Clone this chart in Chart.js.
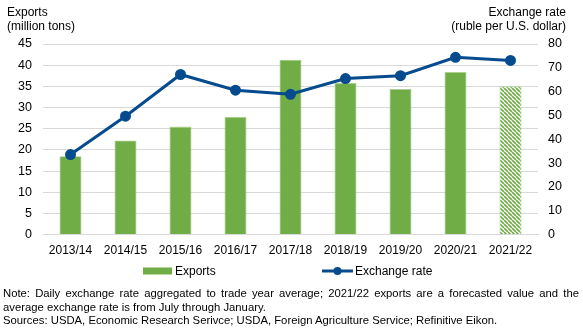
<!DOCTYPE html>
<html>
<head>
<meta charset="utf-8">
<script src="https://cdn.jsdelivr.net/npm/chart.js@4/dist/chart.umd.min.js"></script>
<style>
  body { margin: 0; background: #fff; font-family: "Liberation Sans", Arial, sans-serif; color: #000; }
  #wrap { position: relative; width: 583px; height: 332px; }
  #chart { position: absolute; left: 0; top: 0; }
  .ttl { position: absolute; font-size: 12px; line-height: 14px; }
  .leg { position: absolute; top: 263px; font-size: 12px; line-height: 16px; white-space: nowrap; }
  .leg canvas { position: absolute; left: 0; top: 3px; }
  #notes { position: absolute; left: 3px; top: 287px; font-size: 11.3px; line-height: 13.5px; width: 576px; text-align: justify; }
</style>
</head>
<body>
<div id="wrap">
  <canvas id="chart" width="583" height="271"></canvas>
  <div class="ttl" style="left:7px; top:5px;">Exports<br>(million tons)</div>
  <div class="ttl" style="right:17px; top:5px; text-align:right;">Exchange rate<br>(ruble per U.S. dollar)</div>
  <div class="leg" id="legBar" style="left:142px; padding-left:33px;">Exports</div>
  <div class="leg" id="legLine" style="left:322px; padding-left:33px;">Exchange rate</div>
  <div id="notes">Note: Daily exchange rate aggregated to trade year average; 2021/22 exports are a forecasted value and the average exchange rate is from July through January.<br>Sources: USDA, Economic Research Serivce; USDA, Foreign Agriculture Service; Refinitive Eikon.</div>
</div>
<script>
const years = ['2013/14', '2014/15', '2015/16', '2016/17', '2017/18', '2018/19', '2019/20', '2020/21', '2021/22'];
const exportsMt = [18.5, 22.2, 25.5, 27.8, 41.3, 35.8, 34.4, 38.4, 35.0];
const rubPerUsd = [33.6, 49.7, 67.2, 60.6, 58.9, 65.5, 66.7, 74.4, 73.1];
const leftTicks = [0, 5, 10, 15, 20, 25, 30, 35, 40, 45];
const rightTicks = [0, 10, 20, 30, 40, 50, 60, 70, 80];

const green = '#70ad47';
const blue = '#054b8e';
const font = { family: '"Liberation Sans", Arial, sans-serif', size: 12.5 };

// hatched fill for the forecast year
function makeHatch() {
  const c = document.createElement('canvas');
  c.width = 4; c.height = 4;
  const g = c.getContext('2d');
  g.fillStyle = '#fff';
  g.fillRect(0, 0, 4, 4);
  g.strokeStyle = green;
  g.lineWidth = 1.6;
  for (const off of [-4, 0, 4]) {
    g.beginPath();
    g.moveTo(off, 0);
    g.lineTo(off + 4, 4);
    g.stroke();
  }
  return g.createPattern(c, 'repeat');
}

function legendIcon(kind) {
  const c = document.createElement('canvas');
  c.width = 31; c.height = 10;
  const g = c.getContext('2d');
  if (kind === 'bar') {
    g.fillStyle = green;
    g.fillRect(1, 1.5, 29, 7);
  } else {
    g.strokeStyle = blue;
    g.lineWidth = 3;
    g.beginPath();
    g.moveTo(0, 5); g.lineTo(31, 5);
    g.stroke();
    g.fillStyle = blue;
    g.beginPath();
    g.arc(15.5, 5, 4, 0, Math.PI * 2);
    g.fill();
  }
  return c;
}

document.getElementById('legBar').appendChild(legendIcon('bar'));
document.getElementById('legLine').appendChild(legendIcon('line'));

const hatch = makeHatch();
const barColors = years.map((y, i) => i === years.length - 1 ? hatch : green);

const ctx = document.getElementById('chart').getContext('2d');
new Chart(ctx, {
  data: {
    labels: years,
    datasets: [
      {
        type: 'line',
        label: 'Exchange rate',
        data: rubPerUsd,
        yAxisID: 'y1',
        borderColor: blue,
        backgroundColor: blue,
        borderWidth: 3,
        pointRadius: 4,
        pointHoverRadius: 4,
        tension: 0,
        order: 0
      },
      {
        type: 'bar',
        label: 'Exports',
        data: exportsMt,
        yAxisID: 'y',
        backgroundColor: barColors,
        borderColor: '#a9d08e',
        borderWidth: 0.8,
        barPercentage: 0.4,
        categoryPercentage: 1,
        order: 1
      }
    ]
  },
  options: {
    responsive: false,
    animation: false,
    layout: { padding: { top: 44, bottom: 4 } },
    plugins: {
      tooltip: { enabled: false },
      legend: { display: false }
    },
    scales: {
      x: {
        grid: { display: false, drawTicks: false },
        border: { color: '#d9d9d9' },
        ticks: { color: '#000', padding: 9, maxRotation: 0, autoSkip: false, font: { family: font.family, size: 12 } }
      },
      y: {
        position: 'left',
        min: 0, max: 45,
        afterBuildTicks: s => { s.ticks = leftTicks.map(v => ({ value: v })); },
        afterFit: s => { s.width = 43; },
        grid: { color: '#d9d9d9', drawTicks: false },
        border: { display: false },
        ticks: { color: '#000', padding: 11, autoSkip: false, font }
      },
      y1: {
        position: 'right',
        min: 0, max: 80,
        afterBuildTicks: s => { s.ticks = rightTicks.map(v => ({ value: v })); },
        afterFit: s => { s.width = 45; },
        grid: { display: false, drawTicks: false },
        border: { display: false },
        ticks: { color: '#000', padding: 10, autoSkip: false, font }
      }
    }
  }
});
</script>
</body>
</html>
